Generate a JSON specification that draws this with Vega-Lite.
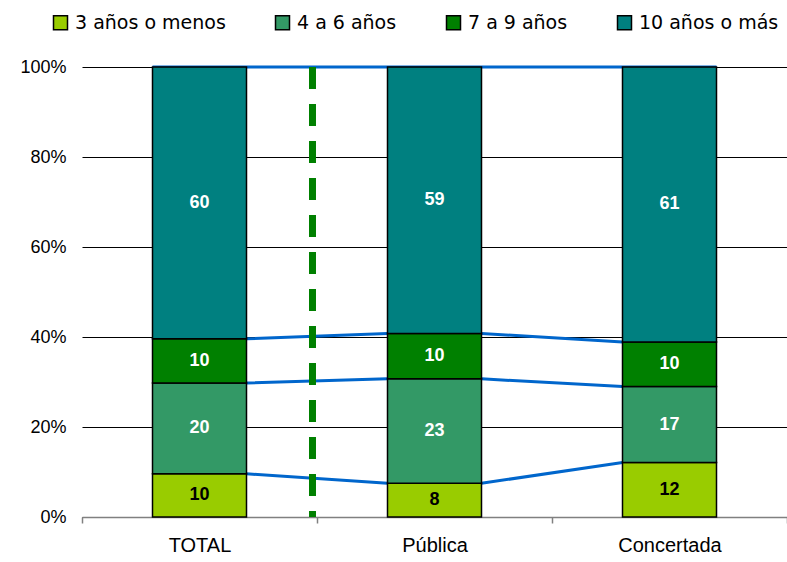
{
  "$schema": "https://vega.github.io/schema/vega-lite/v6.json",
  "width": 705,
  "height": 450,
  "autosize": "none",
  "padding": {"left": 82, "top": 67, "right": 0, "bottom": 45},
  "background": "white",
  "config": {"view": {"stroke": null}, "font": "Liberation Sans"},
  "data": {
    "values": [
      {"cat": "TOTAL", "grupo": "3 años o menos", "ord": 1, "value": 9.6},
      {"cat": "TOTAL", "grupo": "4 a 6 años", "ord": 2, "value": 20.2},
      {"cat": "TOTAL", "grupo": "7 a 9 años", "ord": 3, "value": 9.8},
      {"cat": "TOTAL", "grupo": "10 años o más", "ord": 4, "value": 60.4},
      {"cat": "Pública", "grupo": "3 años o menos", "ord": 1, "value": 7.5},
      {"cat": "Pública", "grupo": "4 a 6 años", "ord": 2, "value": 23.2},
      {"cat": "Pública", "grupo": "7 a 9 años", "ord": 3, "value": 10.1},
      {"cat": "Pública", "grupo": "10 años o más", "ord": 4, "value": 59.2},
      {"cat": "Concertada", "grupo": "3 años o menos", "ord": 1, "value": 12.1},
      {"cat": "Concertada", "grupo": "4 a 6 años", "ord": 2, "value": 16.9},
      {"cat": "Concertada", "grupo": "7 a 9 años", "ord": 3, "value": 9.9},
      {"cat": "Concertada", "grupo": "10 años o más", "ord": 4, "value": 61.1}
    ]
  },
  "encoding": {
    "x": {
      "field": "cat",
      "type": "nominal",
      "scale": {"domain": ["TOTAL", "Pública", "Concertada"], "paddingInner": 0, "paddingOuter": 0},
      "axis": {
        "title": null,
        "tickBand": "extent",
        "grid": false,
        "domainColor": "#808080",
        "domainWidth": 1.5,
        "tickColor": "#808080",
        "tickSize": 6,
        "tickWidth": 1.5,
        "labelFont": "Liberation Sans",
        "labelFontSize": 20,
        "labelPadding": 12,
        "labelColor": "black",
        "labelAngle": 0
      }
    }
  },
  "resolve": {"scale": {"xOffset": "independent"}},
  "layer": [
    {
      "transform": [
        {"stack": "value", "groupby": ["cat"], "sort": [{"field": "ord"}], "offset": "normalize", "as": ["a0", "yl"]},
        {"stack": "value", "groupby": ["cat"], "sort": [{"field": "ord"}], "offset": "normalize", "as": ["b0", "yr"]},
        {"fold": ["yl", "yr"], "as": ["side", "cum"]}
      ],
      "mark": {"type": "line", "color": "#0066cc", "strokeWidth": 3},
      "encoding": {
        "xOffset": {"field": "side", "type": "nominal", "scale": {"type": "point", "padding": 0.75, "domain": ["yl", "yr"]}},
        "y": {
          "field": "cum",
          "type": "quantitative",
          "scale": {"domain": [0, 1]},
          "axis": {
            "title": null,
            "values": [0, 0.2, 0.4, 0.6, 0.8, 1],
            "format": ".0%",
            "grid": true,
            "gridColor": "black",
            "gridWidth": 1,
            "domain": false,
            "ticks": false,
            "labelPadding": 16,
            "labelFont": "Liberation Sans",
            "labelFontSize": 18,
            "labelColor": "black"
          }
        },
        "detail": {"field": "grupo", "type": "nominal"},
        "order": [{"field": "cat", "sort": "ascending"}, {"field": "side", "sort": "descending"}]
      }
    },
    {
      "mark": {"type": "bar", "stroke": "black", "strokeWidth": 1.5, "width": {"band": 0.4}},
      "encoding": {
        "y": {
          "field": "value",
          "type": "quantitative",
          "stack": "normalize",
          "scale": {"domain": [0, 1]},
          "axis": {
            "title": null,
            "values": [0, 0.2, 0.4, 0.6, 0.8, 1],
            "format": ".0%",
            "grid": true,
            "gridColor": "black",
            "gridWidth": 1,
            "domain": false,
            "ticks": false,
            "labelPadding": 16,
            "labelFont": "Liberation Sans",
            "labelFontSize": 18,
            "labelColor": "black"
          }
        },
        "color": {
          "field": "grupo",
          "type": "nominal",
          "scale": {
            "domain": ["3 años o menos", "4 a 6 años", "7 a 9 años", "10 años o más"],
            "range": ["#99cc00", "#339966", "#008000", "#008080"]
          },
          "legend": {
            "title": null,
            "orient": "none",
            "legendX": -31,
            "legendY": -54,
            "direction": "horizontal",
            "columns": 4,
            "symbolType": "square",
            "symbolSize": 196,
            "symbolStrokeColor": "black",
            "symbolStrokeWidth": 1.5,
            "labelFont": "DejaVu Sans",
            "labelFontSize": 19,
            "labelColor": "black",
            "labelOffset": 5,
            "columnPadding": 46,
            "labelLimit": 300
          }
        },
        "order": {"field": "ord", "type": "quantitative"}
      }
    },
    {
      "mark": {"type": "text", "font": "Liberation Sans", "fontSize": 18, "fontWeight": "bold"},
      "encoding": {
        "y": {
          "field": "value",
          "type": "quantitative",
          "stack": "normalize",
          "bandPosition": 0.5,
          "axis": {
            "title": null,
            "values": [0, 0.2, 0.4, 0.6, 0.8, 1],
            "format": ".0%",
            "grid": true,
            "gridColor": "black",
            "gridWidth": 1,
            "domain": false,
            "ticks": false,
            "labelPadding": 16,
            "labelFont": "Liberation Sans",
            "labelFontSize": 18,
            "labelColor": "black"
          }
        },
        "text": {"field": "value", "type": "quantitative", "format": ".0f"},
        "order": {"field": "ord", "type": "quantitative"},
        "color": {"condition": {"test": "datum.grupo === '3 años o menos'", "value": "black"}, "value": "white"}
      }
    },
    {
      "mark": {"type": "rule", "color": "#008000", "strokeWidth": 6, "strokeDash": [22, 15]},
      "encoding": {
        "x": {"datum": "TOTAL", "type": "nominal", "bandPosition": 0.98}
      }
    }
  ]
}
